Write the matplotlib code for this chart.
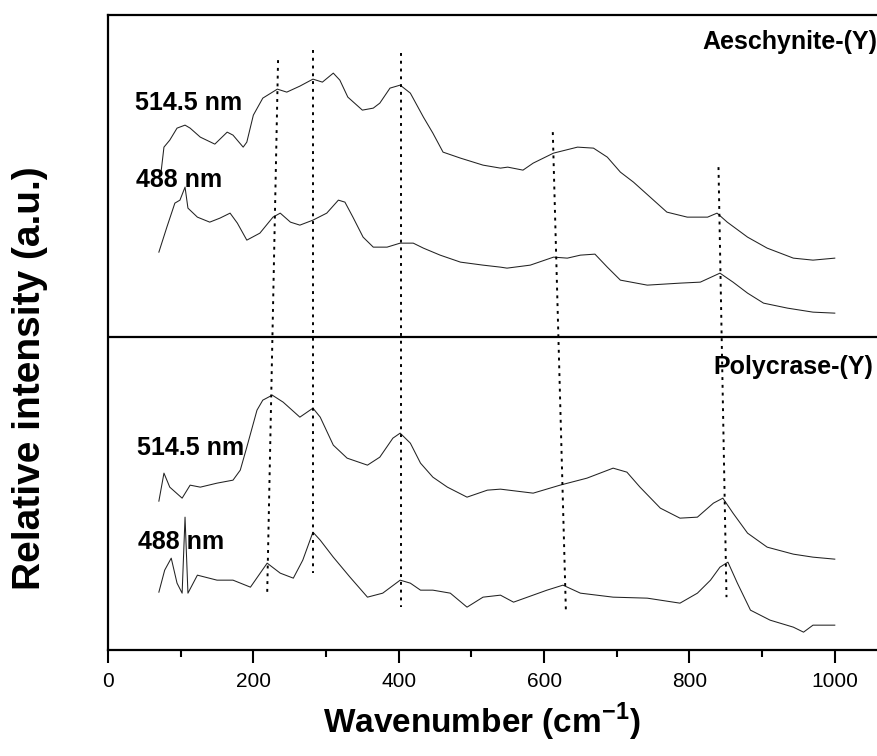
import matplotlib
matplotlib.use("Agg")
import matplotlib.pyplot as plt

plt.rcParams['font.family'] = ['Liberation Sans', 'DejaVu Sans']
plt.rcParams['mathtext.fontset'] = 'custom'
plt.rcParams['mathtext.bf'] = 'Liberation Sans:bold'
plt.rcParams['mathtext.rm'] = 'Liberation Sans:bold'

# ---- spectra (wavenumber cm-1, relative intensity a.u.) ----
aes_514_x = [73, 77, 85, 95, 106, 113, 127, 147, 164, 172, 186, 191, 200, 213, 233, 246,
             264, 282, 295, 310, 319, 330, 350, 365, 374, 388, 402, 416, 434, 447, 461,
             485, 516, 540, 550, 571, 585, 613, 646, 668, 687, 705, 723, 746, 769, 797,
             825, 838, 852, 880, 907, 943, 970, 1000]
aes_514_y = [4.78, 5.03, 5.10, 5.22, 5.25, 5.22, 5.13, 5.06, 5.18, 5.15, 5.03, 5.08, 5.35,
             5.52, 5.61, 5.58, 5.64, 5.71, 5.68, 5.77, 5.70, 5.53, 5.40, 5.42, 5.47, 5.62,
             5.65, 5.57, 5.33, 5.17, 4.98, 4.92, 4.85, 4.82, 4.83, 4.80, 4.87, 4.97, 5.03,
             5.02, 4.93, 4.78, 4.68, 4.53, 4.38, 4.33, 4.33, 4.37, 4.28, 4.13, 4.02, 3.92,
             3.90, 3.92]

aes_488_x = [70, 81, 92, 99, 106, 110, 123, 140, 154, 168, 178, 191, 209, 227, 237, 251,
             264, 282, 301, 317, 326, 337, 351, 365, 384, 402, 420, 434, 457, 485, 516,
             540, 549, 581, 613, 632, 650, 670, 687, 705, 742, 787, 815, 842, 860, 880,
             902, 935, 970, 1000]
aes_488_y = [3.98, 4.23, 4.47, 4.50, 4.63, 4.42, 4.33, 4.28, 4.32, 4.37, 4.27, 4.10, 4.17,
             4.33, 4.37, 4.28, 4.25, 4.30, 4.37, 4.50, 4.48, 4.33, 4.13, 4.03, 4.03, 4.07,
             4.07, 4.02, 3.95, 3.88, 3.85, 3.83, 3.82, 3.85, 3.93, 3.92, 3.95, 3.96, 3.83,
             3.70, 3.65, 3.67, 3.68, 3.77, 3.68, 3.57, 3.47, 3.42, 3.38, 3.37]

poly_514_x = [70, 77, 85, 102, 113, 127, 150, 172, 182, 191, 205, 213, 226, 241, 264, 282,
              292, 310, 329, 357, 374, 392, 402, 416, 430, 447, 467, 494, 522, 540, 585,
              622, 659, 695, 714, 732, 760, 787, 811, 833, 846, 860, 880, 907, 943, 970,
              1000]
poly_514_y = [1.49, 1.77, 1.63, 1.52, 1.65, 1.63, 1.67, 1.70, 1.80, 2.03, 2.40, 2.50, 2.55,
              2.48, 2.33, 2.42, 2.33, 2.05, 1.92, 1.85, 1.93, 2.12, 2.17, 2.07, 1.87, 1.73,
              1.63, 1.53, 1.60, 1.61, 1.57, 1.65, 1.72, 1.82, 1.78, 1.63, 1.42, 1.32, 1.33,
              1.47, 1.52, 1.37, 1.17, 1.03, 0.96, 0.93, 0.91]

poly_488_x = [70, 78, 87, 95, 102, 106, 110, 123, 150, 172, 196, 219, 237, 255, 268, 282,
              292, 310, 333, 357, 378, 402, 416, 430, 447, 471, 494, 516, 540, 558, 604,
              626, 650, 695, 742, 787, 811, 829, 842, 853, 866, 884, 911, 943, 957, 970,
              1000]
poly_488_y = [0.58, 0.80, 0.92, 0.67, 0.57, 1.33, 0.57, 0.75, 0.70, 0.70, 0.63, 0.87, 0.77,
              0.72, 0.90, 1.18, 1.10, 0.93, 0.73, 0.53, 0.57, 0.70, 0.67, 0.60, 0.60, 0.57,
              0.43, 0.53, 0.55, 0.48, 0.60, 0.65, 0.57, 0.53, 0.52, 0.47, 0.57, 0.70, 0.83,
              0.88, 0.67, 0.40, 0.30, 0.23, 0.18, 0.25, 0.25]

# band guides: (x top, y top, x bottom, y bottom)
guides = [(234, 5.90, 219, 0.55),
          (282, 6.00, 282, 0.77),
          (403, 5.97, 403, 0.43),
          (612, 5.18, 630, 0.40),
          (840, 4.83, 851, 0.53)]

divider = 3.13

fig = plt.figure(figsize=(8.78, 7.56), dpi=100)
ax = fig.add_axes([0.123, 0.140, 0.894, 0.840])

for xs, ys in [(aes_514_x, aes_514_y), (aes_488_x, aes_488_y),
               (poly_514_x, poly_514_y), (poly_488_x, poly_488_y)]:
    ax.plot(xs, ys, color='#222222', lw=0.75)

for x0, y0, x1, y1 in guides:
    ax.plot([x0, x1], [y0, y1], color='black', lw=1.4, linestyle=(0, (1.5, 2.5)))

ax.axhline(divider, color='black', lw=1.6)

ax.set_xlim(0, 1080)
ax.set_ylim(0, 6.35)
ax.set_yticks([])
ax.set_xticks(range(0, 1001, 200))
ax.set_xticks(range(100, 1001, 200), minor=True)
ax.tick_params(axis='x', which='major', direction='out', length=9, width=1.5,
               labelsize=15, pad=7)
ax.tick_params(axis='x', which='minor', direction='out', length=5, width=1.5)
for s in ax.spines.values():
    s.set_linewidth(1.6)

lab = dict(fontsize=18, fontweight='bold', va='center')
ax.text(37, 5.47, '514.5 nm', ha='left', **lab)
ax.text(38, 4.70, '488 nm', ha='left', **lab)
ax.text(40, 2.02, '514.5 nm', ha='left', **lab)
ax.text(41, 1.08, '488 nm', ha='left', **lab)
ax.text(1058, 6.08, 'Aeschynite-(Y)', ha='right', **lab)
ax.text(1053, 2.83, 'Polycrase-(Y)', ha='right', **lab)

fig.text(0.549, 0.045, r'Wavenumber (cm$^{\mathbf{-1}}$)', fontsize=24,
         fontweight='bold', ha='center', va='center')
fig.text(0.034, 0.50, 'Relative intensity (a.u.)', fontsize=28, fontweight='bold',
         rotation=90, ha='center', va='center')

fig.savefig('out.png', dpi=100)
